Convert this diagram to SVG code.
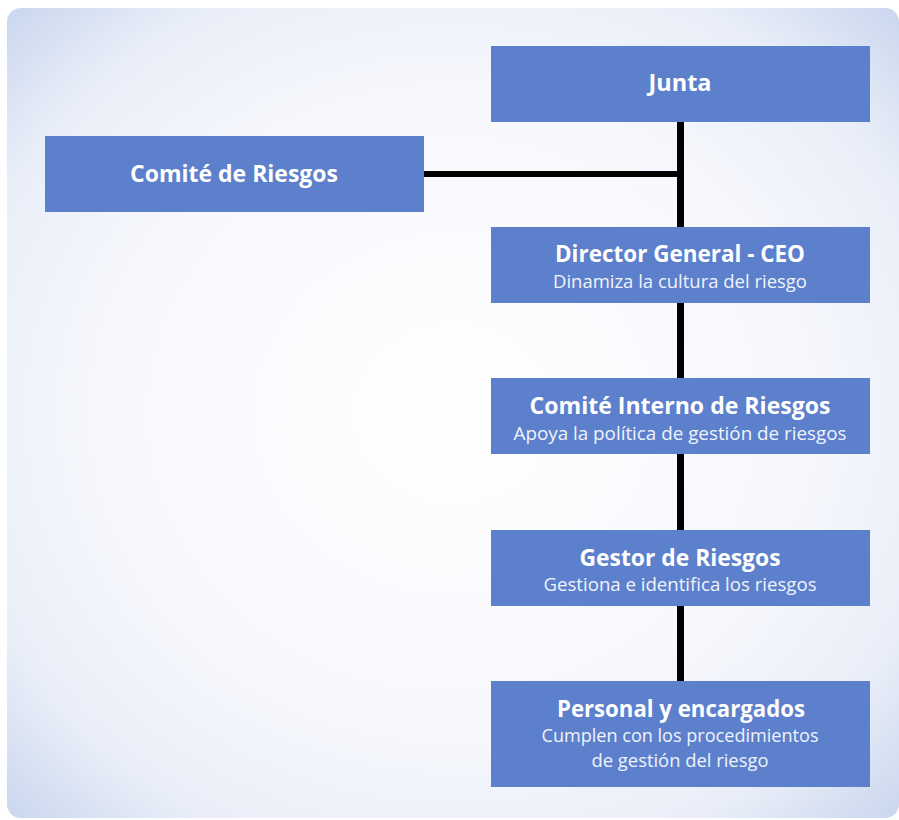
<svg xmlns="http://www.w3.org/2000/svg" width="899" height="820" viewBox="0 0 899 820">
<defs>
<radialGradient id="bg" cx="0.5" cy="0.5" r="0.71">
<stop offset="0" stop-color="#ffffff"/>
<stop offset="0.55" stop-color="#f7f8fd"/>
<stop offset="0.8" stop-color="#e9eef8"/>
<stop offset="1" stop-color="#c9d6ee"/>
</radialGradient>
<style>
.box{fill:#5c80cc}
.t{font-family:"Open Sans","Noto Sans",sans-serif;font-weight:bold;font-size:24px;fill:#ffffff;text-anchor:middle}
.s{font-family:"Open Sans","Noto Sans",sans-serif;font-size:18px;fill:#f0f3fb;text-anchor:middle}
.ln{stroke:#000;fill:none}
</style>
</defs>
<rect x="7" y="8" width="892" height="810" rx="14" fill="url(#bg)"/>
<g id="connectors">
<line class="ln" x1="680.5" y1="120" x2="680.5" y2="683" stroke-width="7"/>
<line class="ln" x1="422" y1="174" x2="684" y2="174" stroke-width="6"/>
</g>
<g id="junta">
<rect class="box" x="491" y="46" width="379" height="76"/>
<text class="t" x="680" y="91" textLength="63" lengthAdjust="spacingAndGlyphs">Junta</text>
</g>
<g id="comite-riesgos">
<rect class="box" x="45" y="136" width="379" height="76"/>
<text class="t" x="234" y="182" textLength="208" lengthAdjust="spacingAndGlyphs">Comité de Riesgos</text>
</g>
<g id="director">
<rect class="box" x="491" y="227" width="379" height="76"/>
<text class="t" x="680" y="262" textLength="250" lengthAdjust="spacingAndGlyphs">Director General - CEO</text>
<text class="s" x="680" y="288" textLength="254" lengthAdjust="spacingAndGlyphs">Dinamiza la cultura del riesgo</text>
</g>
<g id="comite-interno">
<rect class="box" x="491" y="378" width="379" height="76"/>
<text class="t" x="680" y="414" textLength="301" lengthAdjust="spacingAndGlyphs">Comité Interno de Riesgos</text>
<text class="s" x="680" y="440" textLength="333" lengthAdjust="spacingAndGlyphs">Apoya la política de gestión de riesgos</text>
</g>
<g id="gestor">
<rect class="box" x="491" y="530" width="379" height="76"/>
<text class="t" x="680" y="566" textLength="201" lengthAdjust="spacingAndGlyphs">Gestor de Riesgos</text>
<text class="s" x="680" y="591" textLength="273" lengthAdjust="spacingAndGlyphs">Gestiona e identifica los riesgos</text>
</g>
<g id="personal">
<rect class="box" x="491" y="681" width="379" height="106"/>
<text class="t" x="681" y="717" textLength="248" lengthAdjust="spacingAndGlyphs">Personal y encargados</text>
<text class="s" x="680" y="742" textLength="277" lengthAdjust="spacingAndGlyphs">Cumplen con los procedimientos</text>
<text class="s" x="680" y="767" textLength="177" lengthAdjust="spacingAndGlyphs">de gestión del riesgo</text>
</g>
</svg>
